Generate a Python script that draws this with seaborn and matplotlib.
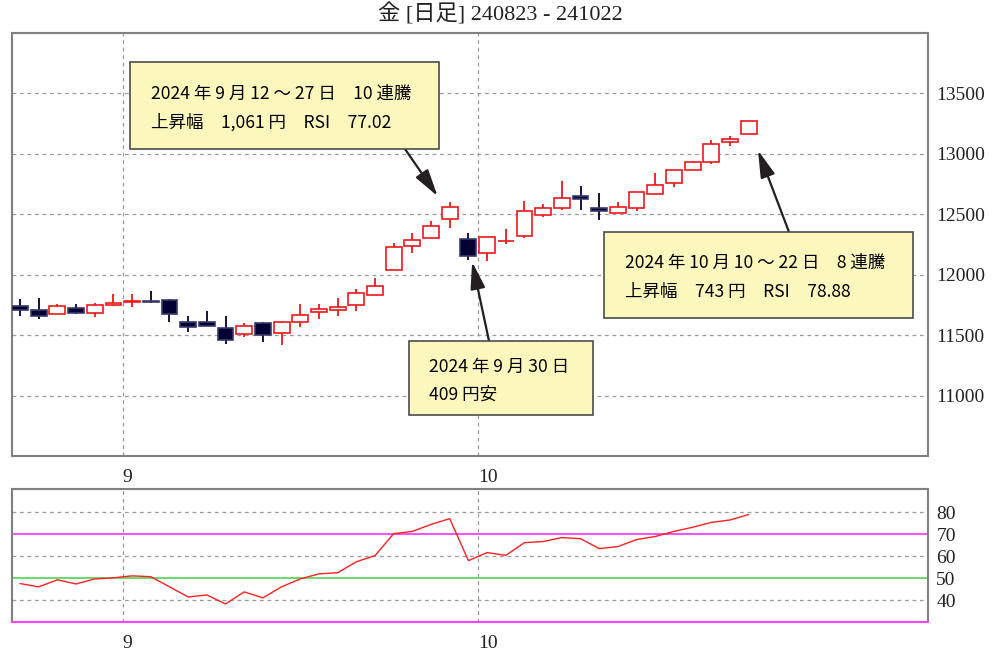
import numpy as np
import pandas as pd
import matplotlib
matplotlib.use('Agg')
import matplotlib.pyplot as plt
import seaborn as sns
from matplotlib.patches import Rectangle

# --- estilo general ---
sns.set_style('white')
plt.rcParams['font.family'] = ['Liberation Serif', 'Noto Sans CJK JP', 'DejaVu Sans']

# ============================================================
# datos
# ============================================================
dates = ['2024-08-23', '2024-08-26', '2024-08-27', '2024-08-28', '2024-08-29', '2024-08-30',
         '2024-09-02', '2024-09-03', '2024-09-04', '2024-09-05', '2024-09-06', '2024-09-09',
         '2024-09-10', '2024-09-11', '2024-09-12', '2024-09-13', '2024-09-17', '2024-09-18',
         '2024-09-19', '2024-09-20', '2024-09-24', '2024-09-25', '2024-09-26', '2024-09-27',
         '2024-09-30', '2024-10-01', '2024-10-02', '2024-10-03', '2024-10-04', '2024-10-07',
         '2024-10-08', '2024-10-09', '2024-10-10', '2024-10-11', '2024-10-15', '2024-10-16',
         '2024-10-17', '2024-10-18', '2024-10-21', '2024-10-22']
open_ = [11743, 11710, 11677, 11726, 11685, 11750, 11775, 11785, 11792, 11610,
         11610, 11561, 11512, 11602, 11520, 11610, 11693, 11710, 11750, 11833,
         12040, 12238, 12304, 12460, 12295, 12180, 12275, 12320, 12493, 12551,
         12650, 12551, 12510, 12551, 12667, 12757, 12864, 12930, 13096, 13162]
high = [11800, 11808, 11760, 11760, 11767, 11842, 11842, 11866, 11800, 11660,
        11700, 11660, 11602, 11610, 11619, 11759, 11759, 11808, 11883, 11973,
        12262, 12345, 12444, 12600, 12345, 12312, 12378, 12609, 12584, 12774,
        12733, 12675, 12600, 12683, 12840, 12864, 12939, 13112, 13145, 13269]
low = [11660, 11635, 11677, 11677, 11650, 11743, 11735, 11767, 11610, 11528,
       11578, 11429, 11487, 11445, 11420, 11569, 11635, 11660, 11700, 11833,
       12040, 12180, 12304, 12386, 12122, 12114, 12254, 12304, 12477, 12535,
       12535, 12452, 12510, 12526, 12667, 12724, 12864, 12914, 13063, 13162]
close = [11710, 11660, 11743, 11685, 11750, 11767, 11785, 11775, 11677, 11569,
         11578, 11462, 11578, 11499, 11610, 11668, 11718, 11734, 11850, 11907,
         12229, 12287, 12403, 12560, 12151, 12312, 12282, 12526, 12551, 12634,
         12625, 12526, 12560, 12683, 12741, 12864, 12930, 13079, 13120, 13269]
rsi = [47.5, 46.0, 49.2, 47.3, 49.6, 50.1, 51.0, 50.6, 46.0, 41.4,
       42.3, 38.2, 43.7, 41.0, 46.0, 49.6, 51.9, 52.4, 57.4, 60.2,
       70.2, 71.2, 74.4, 77.02, 57.9, 61.6, 60.3, 66.1, 66.6, 68.4,
       67.9, 63.4, 64.3, 67.5, 68.9, 71.2, 73.1, 75.3, 76.4, 78.88]

title = '金 [日足] 240823 - 241022'
notes = [
    ['2024 年 9 月 12 ～ 27 日　10 連騰', '上昇幅　1,061 円　RSI　77.02'],
    ['2024 年 9 月 30 日', '409 円安'],
    ['2024 年 10 月 10 ～ 22 日　8 連騰', '上昇幅　743 円　RSI　78.88'],
]

df = pd.DataFrame({'date': pd.to_datetime(dates), 'open': open_, 'high': high,
                   'low': low, 'close': close, 'rsi': rsi})
df['i'] = np.arange(len(df))
df['up'] = df['close'] >= df['open']

# separación de meses
new_month = df['date'].dt.month.diff().fillna(0) != 0
month_pos = (df.loc[new_month, 'i'] - 0.5).tolist()
month_lab = df.loc[new_month, 'date'].dt.month.astype(str).tolist()

UP = '#f01818'
DOWN = '#000033'
GRID = '#9a9a9a'
SPINE = '#808080'

fig = plt.figure(figsize=(10, 6.52), dpi=100)
ax = fig.add_axes([0.012, 0.3006, 0.916, 0.6488])
ax2 = fig.add_axes([0.012, 0.046, 0.916, 0.204])

# ============================================================
# velas
# ============================================================
ax.vlines(df['i'], df['low'], df['high'], colors=np.where(df['up'], UP, DOWN),
          lw=1.3, zorder=2)
body_h = (df['close'] - df['open']).abs()
body_b = df[['open', 'close']].min(axis=1)
ax.bar(df['i'], body_h, bottom=body_b, width=0.85,
       color=np.where(df['up'], 'white', DOWN),
       edgecolor=np.where(df['up'], UP, '#3a3a6a'), lw=1.2, zorder=3)

ax.set_xlim(-0.43, 48.6)
ax.set_ylim(10500, 14000)
ax.set_yticks(range(11000, 14000, 500))
ax.yaxis.tick_right()
ax.set_xticks(month_pos)
ax.set_xticklabels(month_lab, ha='left')
ax.grid(True, ls=(0, (3, 3)), color=GRID, lw=0.9)
ax.tick_params(axis='y', length=0, pad=6, labelsize=14, labelcolor='#222222')
ax.tick_params(axis='x', length=0, pad=9, labelsize=14, labelcolor='#222222')

# ============================================================
# RSI
# ============================================================
sns.lineplot(x=df['i'], y=df['rsi'], ax=ax2, color='#ff2020', lw=1)
for g in [40, 60, 80]:
    ax2.axhline(g, ls=(0, (3, 3)), color=GRID, lw=0.9, zorder=1)
ax2.axhline(70, color='#ff40ff', lw=1.3, zorder=1)
ax2.axhline(50, color='#60d860', lw=1.3, zorder=1)
ax2.set_xlim(-0.43, 48.6)
ax2.set_ylim(30, 90.5)
ax2.set_yticks([40, 50, 60, 70, 80])
ax2.yaxis.tick_right()
ax2.set_xticks(month_pos)
ax2.set_xticklabels(month_lab, ha='left')
ax2.grid(True, axis='x', ls=(0, (3, 3)), color=GRID, lw=0.9)
ax2.set_xlabel('')
ax2.set_ylabel('')
ax2.tick_params(axis='y', length=0, pad=6, labelsize=14, labelcolor='#222222')
ax2.tick_params(axis='x', length=0, pad=9, labelsize=14, labelcolor='#222222')

for a in (ax, ax2):
    for s in a.spines.values():
        s.set_color(SPINE)
        s.set_linewidth(1.5)
ax2.spines['bottom'].set_color('#ff40ff')

fig.text(0.5, 1 - 14 / 652, title, ha='center', va='center', fontsize=16, color='#222222')


# ============================================================
# notas (posiciones en píxeles desde arriba a la izquierda)
# ============================================================
def fx(px):
    return px / 1000


def fy(py):
    return 1 - py / 652


def note(x0, y0, x1, y1, lines, tx, ty):
    fig.patches.append(Rectangle((fx(x0), fy(y1)), fx(x1) - fx(x0), fy(y0) - fy(y1),
                                 transform=fig.transFigure, fc='#fcf7bc', ec='#4d4d4d',
                                 lw=1.2, zorder=5))
    for line, yy in zip(lines, ty):
        fig.text(fx(tx), fy(yy), line, ha='left', va='center', fontsize=12.6,
                 family=['Noto Sans CJK JP'], color='black', zorder=6)


def arrow(xy, tail):
    ax.annotate('', xy=xy, xytext=(fx(tail[0]), fy(tail[1])), textcoords='figure fraction',
                annotation_clip=False,
                arrowprops=dict(arrowstyle='-|>,head_length=1.1,head_width=0.3',
                                mutation_scale=15, color='#231f20', lw=1.6,
                                shrinkA=0, shrinkB=0), zorder=4)


arrow((23 - 0.65, high[23] + 50), (405, 149))
arrow((24 + 0.2, low[24] - 15), (489, 341))
arrow((39 + 0.5, close[39] - 240), (789, 232))

note(130, 62, 439, 149, notes[0], 151, [94, 122])
note(409, 341, 593, 415, notes[1], 429, [367, 395])
note(604, 232, 913, 318, notes[2], 625, [263, 292])

plt.savefig('out.png', dpi=100)
